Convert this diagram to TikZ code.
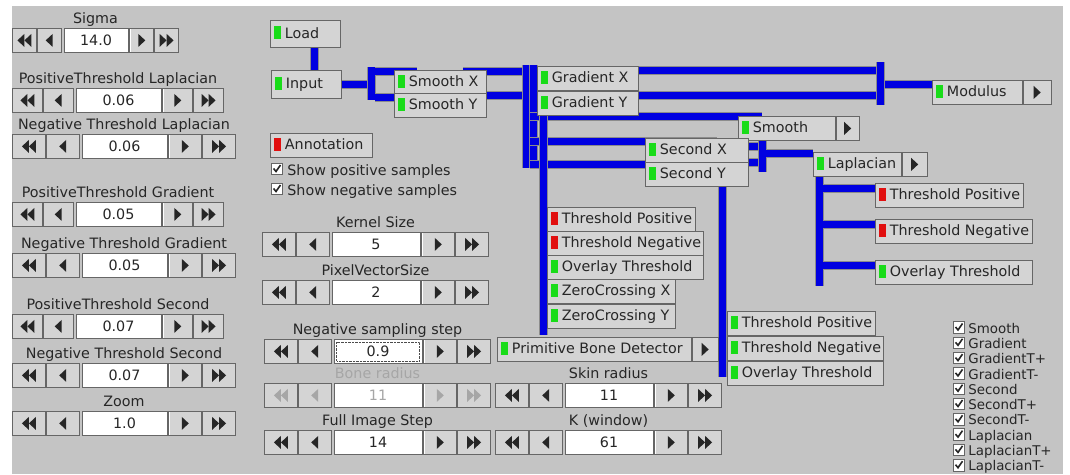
\documentclass[tikz,border=0pt]{standalone}
\usepackage{fontspec}
\setmainfont{DejaVu Sans}
\usetikzlibrary{positioning,calc}
\pgfdeclarelayer{bg}
\pgfdeclarelayer{wires}
\pgfsetlayers{bg,wires,main}

\definecolor{panel}{RGB}{196,196,196}
\definecolor{btngrey}{RGB}{212,212,212}
\definecolor{wireblue}{RGB}{0,0,225}
\definecolor{ledgreen}{RGB}{25,220,25}
\definecolor{ledred}{RGB}{225,15,15}

\newcommand{\guifont}{\fontsize{14.3}{16}\selectfont}
\newcommand{\smallgui}{\fontsize{13.4}{15}\selectfont}
\newcommand{\ledg}{{\color{ledgreen}\rule[-1pt]{6.5pt}{13pt}}\hspace{4pt}}
\newcommand{\ledr}{{\color{ledred}\rule[-1pt]{6.5pt}{13pt}}\hspace{4pt}}

\tikzset{
	pics/arl/.style  = {code={\fill (3.5,-6.5) -- (-3.5,0) -- (3.5,6.5) -- cycle;}},
	pics/arr/.style  = {code={\fill (-3.5,-6.5) -- (3.5,0) -- (-3.5,6.5) -- cycle;}},
	pics/darl/.style = {code={\fill (0,-6.5) -- (-7,0) -- (0,6.5) -- cycle; \fill (7,-6.5) -- (0,0) -- (7,6.5) -- cycle;}},
	pics/darr/.style = {code={\fill (0,-6.5) -- (7,0) -- (0,6.5) -- cycle; \fill (-7,-6.5) -- (0,0) -- (-7,6.5) -- cycle;}}
}

% spinner: name, x, y, button width, field width, value, label, colour
\newcommand{\spinner}[8]{%
	\node[btn, anchor=north west, minimum width=#4] (#1-ff) at (#2,#3) {};
	\node[btn, minimum width=#4, right=0pt of #1-ff] (#1-f) {};
	\node[field, minimum width=#5, right=2pt of #1-f, text=#8] (#1-v) {#6};
	\node[btn, minimum width=#4, right=1pt of #1-v] (#1-b) {};
	\node[btn, minimum width=#4, right=0pt of #1-b] (#1-bb) {};
	\pic[#8] at (#1-ff) {darl};
	\pic[#8] at (#1-f) {arl};
	\pic[#8] at (#1-b) {arr};
	\pic[#8] at (#1-bb) {darr};
	\node[lbl, text=#8, anchor=base] (#1-lbl) at ($(#1-ff.north west)!0.5!(#1-bb.north east)+(0,-5)$) {#7};
}

\begin{document}
\begin{tikzpicture}[x=1pt, y=-1pt,
		btn/.style   = {draw=black!60, fill=btngrey, line width=0.8pt, minimum height=24, inner sep=0pt,
			path picture={\draw[white, line width=1.6pt] (path picture bounding box.south west) -- (path picture bounding box.north west) -- (path picture bounding box.north east);}},
		field/.style = {draw=black!60, fill=white, line width=0.8pt, minimum height=24, inner sep=0pt, font=\guifont},
		stage/.style = {btn, anchor=north west, inner xsep=4pt, font=\guifont, text=black!85,
			text height=12pt, text depth=3pt,
			execute at begin node={\hbox to #1pt\bgroup}, execute at end node={\hss\egroup}},
		lbl/.style   = {font=\guifont, text=black!85, inner sep=0pt},
		tick/.style  = {draw=black!60, fill=white, line width=0.8pt, minimum size=11.5, inner sep=0pt,
			path picture={\draw[line width=1.6pt, black!85] ([shift={(-3.5,-0.5)}]path picture bounding box.center) -- ++(2.5,3) -- ++(4.5,-6.5);}},
		wire/.style  = {line width=7pt, draw=wireblue, preaction={draw=black!45, line width=9pt}}
	]
	\useasboundingbox (0,0) rectangle (1070,474);
	\begin{pgfonlayer}{bg}
		\fill[white] (0,0) rectangle (1070,474);
		\fill[panel] (12,6) rectangle (1063,474);
	\end{pgfonlayer}

	% === === Parameters === ===
	\spinner{sig}{12}{28}{24}{64}{14.0}{Sigma}{black!85}
	\spinner{ptl}{12}{88}{30}{85}{0.06}{PositiveThreshold Laplacian}{black!85}
	\spinner{ntl}{12}{134}{33}{85}{0.06}{Negative Threshold Laplacian}{black!85}
	\spinner{ptg}{12}{202}{30}{85}{0.05}{PositiveThreshold Gradient}{black!85}
	\spinner{ntg}{12}{253}{33}{85}{0.05}{Negative Threshold Gradient}{black!85}
	\spinner{pts}{12}{314}{30}{85}{0.07}{PositiveThreshold Second}{black!85}
	\spinner{nts}{12}{363}{33}{85}{0.07}{Negative Threshold Second}{black!85}
	\spinner{zoom}{12}{411}{33}{85}{1.0}{Zoom}{black!85}

	\spinner{ker}{262}{232}{33}{88}{5}{Kernel Size}{black!85}
	\spinner{pvs}{262}{280}{33}{88}{2}{PixelVectorSize}{black!85}
	\spinner{nss}{264}{339}{33}{88}{0.9}{Negative sampling step}{black!85}
	\spinner{bone}{264}{383}{33}{88}{11}{Bone radius}{black!35}
	\spinner{fis}{264}{430}{33}{88}{14}{Full Image Step}{black!85}
	\spinner{skin}{495}{383}{33}{88}{11}{Skin radius}{black!85}
	\spinner{kwin}{495}{430}{33}{88}{61}{K (window)}{black!85}
	\draw[black!70, densely dotted] ($(nss-v.north west)+(3,3)$) rectangle ($(nss-v.south east)+(-3,-3)$);

	% === === Pipeline === ===
	\node[stage=62, minimum height=27]	(load)		at (270,20)		{\ledg Load};
	\node[stage=62, minimum height=28]	(input)		at (271,70)		{\ledg Input};
	\node[stage=84]		(smx)		at (394,70)		{\ledg Smooth X};
	\node[stage=84]		(smy)		at (394,93)		{\ledg Smooth Y};
	\node[stage=93]		(grx)		at (537,66)		{\ledg Gradient X};
	\node[stage=93]		(gry)		at (537,91)		{\ledg Gradient Y};
	\node[stage=89]		(smooth)	at (738,116)	{\ledg Smooth};
	\node[stage=95]		(secx)		at (645,138)	{\ledg Second X};
	\node[stage=95]		(secy)		at (645,162)	{\ledg Second Y};
	\node[stage=80]		(lap)		at (813,152)	{\ledg Laplacian};
	\node[stage=82]		(mod)		at (932,80)		{\ledg Modulus};
	\node[stage=140]	(ltp)		at (875,183)	{\ledr Threshold Positive};
	\node[stage=149]	(ltn)		at (875,219)	{\ledr Threshold Negative};
	\node[stage=149]	(lov)		at (875,260)	{\ledg Overlay Threshold};
	\node[stage=140]	(gtp)		at (547,207)	{\ledr Threshold Positive};
	\node[stage=148]	(gtn)		at (547,231)	{\ledr Threshold Negative};
	\node[stage=148]	(gov)		at (547,255)	{\ledg Overlay Threshold};
	\node[stage=120]	(zcx)		at (547,279)	{\ledg ZeroCrossing X};
	\node[stage=120]	(zcy)		at (547,304)	{\ledg ZeroCrossing Y};
	\node[stage=186]	(pbd)		at (497,337)	{\ledg Primitive Bone Detector};
	\node[stage=140]	(stp)		at (727,311)	{\ledg Threshold Positive};
	\node[stage=148]	(stn)		at (727,336)	{\ledg Threshold Negative};
	\node[stage=148]	(sov)		at (727,361)	{\ledg Overlay Threshold};
	\node[stage=94]		(annot)		at (270,133)	{\ledr Annotation};

	\node[btn, minimum width=23, right=0pt of smooth]	(smooth-go)	{};
	\node[btn, minimum width=25, right=0pt of lap]		(lap-go)	{};
	\node[btn, minimum width=28, right=0pt of mod]		(mod-go)	{};
	\node[btn, minimum width=26, right=0pt of pbd]		(pbd-go)	{};
	\foreach \b in {smooth-go, lap-go, mod-go, pbd-go}
		\pic[black!85] at (\b) {arr};

	% === === Check boxes === ===
	\node[tick] (showpos) at (277,169) {};
	\node[tick] (showneg) at (277,189) {};
	\node[lbl, anchor=base west] at ($(showpos.south east)+(4,0)$) {Show positive samples};
	\node[lbl, anchor=base west] at ($(showneg.south east)+(4,0)$) {Show negative samples};
	\foreach \t [count=\i] in {Smooth, Gradient, GradientT+, GradientT-, Second, SecondT+, SecondT-, Laplacian, LaplacianT+, LaplacianT-} {
		\node[tick] (vis\i) at (959, 312.2+15.3*\i) {};
		\node[lbl, font=\smallgui, anchor=base west] at ($(vis\i.south east)+(3,-0.5)$) {\t};
	}

	% === === Wires === ===
	\begin{pgfonlayer}{wires}
		\coordinate (lo) at ([xshift=9pt]load.south);
		\draw[wire] (lo) -- (lo |- input.north);

		\coordinate (b1t) at (371,67);
		\coordinate (b1b) at (371,100);
		\draw[wire] (input.east) -- (input.east -| b1t);
		\draw[wire] (b1t) -- (b1b);
		\coordinate (p1) at ($(smx.north west)+(23,1)$);
		\draw[wire] (p1) -- ($(p1 -| b1t)+(4,0)$);
		\coordinate (p2) at ($(smy.north west)+(0,4)$);
		\draw[wire] (p2) -- ($(p2 -| b1b)+(4,0)$);

		\coordinate (b2t) at (526,65);
		\coordinate (b2b) at (526,168);
		\coordinate (p3) at ($(smx.north east)+(-24,1.5)$);
		\draw[wire] (p3) -- (p3 -| b2t);
		\coordinate (p4) at ($(smy.north east)+(0,2)$);
		\draw[wire] (p4) -- (p4 -| b2t);
		\draw[wire] (b2t) -- (b2b);
		\draw[wire] ($(b2t)+(7.5,0)$) -- ($(b2b)+(7.5,0)$);
		\coordinate (p5) at ($(smooth.north west)+(24,0)$);
		\draw[wire] (p5) -- ($(p5 -| b2t)+(4,0)$);
		\coordinate (p6) at ($(secx.north west)+(72,3.5)$);
		\draw[wire] (p6) -- ($(p6 -| b2t)+(4,0)$);
		\coordinate (p7) at ($(secy.north west)+(0,2.5)$);
		\draw[wire] (p7) -- ($(p7 -| b2t)+(4,0)$);
		\draw[wire] ($(gry.south west)+(6,0)$) -- ($(zcy.south west)+(-4,6)$);

		\coordinate (b6t) at (880,62);
		\coordinate (b6b) at (880,105);
		\coordinate (p8) at ($(grx.north east)+(-3,4)$);
		\draw[wire] (p8) -- (p8 -| b6t);
		\coordinate (p9) at ($(gry.north east)+(0,4)$);
		\draw[wire] (p9) -- (p9 -| b6t);
		\draw[wire] (b6t) -- (b6b);
		\coordinate (p10) at ($(mod.north west)+(0,4.5)$);
		\draw[wire] (p10) -- ($(p10 -| b6t)+(5,0)$);

		\coordinate (b4t) at (762,140);
		\coordinate (b4b) at (762,172);
		\coordinate (p11) at ($(secx.north east)+(0,8)$);
		\draw[wire] (p11) -- (p11 -| b4t);
		\coordinate (p12) at ($(secy.north east)+(0,0.5)$);
		\draw[wire] (p12) -- (p12 -| b4t);
		\draw[wire] (b4t) -- (b4b);
		\coordinate (p13) at ($(lap.north west)+(0,1.5)$);
		\draw[wire] (p13) -- ($(p13 -| b4t)+(4,0)$);

		\draw[wire] ($(secy.south west)+(77,0)$) -- ($(sov.west)+(-5,4)$);

		\coordinate (b7t) at ($(lap.south west)+(6,0)$);
		\coordinate (b7b) at ($(lov.south west)+(-56,1)$);
		\draw[wire] (b7t) -- (b7b);
		\foreach \n in {ltp, ltn, lov} {
			\coordinate (q) at ($(\n.north west)+(0,5.5)$);
			\draw[wire] (q) -- ($(q -| b7t)+(4,0)$);
		}
	\end{pgfonlayer}

\end{tikzpicture}
\end{document}
